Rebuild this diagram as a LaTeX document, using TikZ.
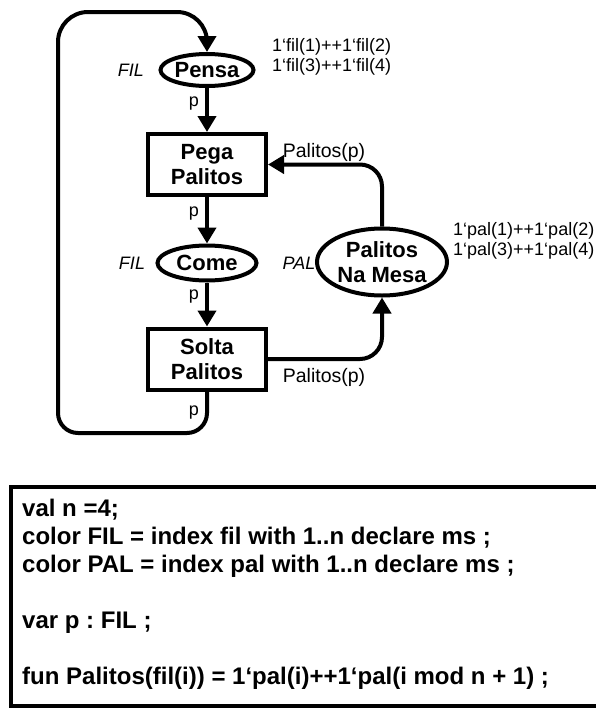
\documentclass[tikz,border=0pt]{standalone}
\usepackage{fontspec}
\setmainfont{Liberation Sans}
\usetikzlibrary{arrows.meta,shapes.geometric}
\frenchspacing
\begin{document}
\begin{tikzpicture}[x=1pt,y=-1pt,
  place/.style={ellipse, draw, line width=4pt, inner sep=0pt,
    font=\fontsize{22}{25}\selectfont\bfseries, align=center},
  trans/.style={rectangle, draw, line width=4pt, inner sep=0pt,
    minimum width=118pt, minimum height=61pt,
    font=\fontsize{22}{25}\selectfont\bfseries, align=center},
  arc/.style={line width=4pt, -{Triangle[length=16pt,width=18pt]}},
  lbl/.style={inner sep=0pt, font=\fontsize{18}{20}\selectfont},
  inscr/.style={inner sep=0pt, font=\fontsize{19.5}{22}\selectfont},
  typ/.style={inner sep=0pt, font=\fontsize{18}{20}\selectfont\itshape},
  decl/.style={inner sep=0pt, anchor=base west, font=\fontsize{24}{28}\selectfont\bfseries},
]
\useasboundingbox (0,0) rectangle (595,715);
\fill[white] (0,0) rectangle (595,715);

% places and transitions
\node[place, minimum width=93pt, minimum height=32pt] (pensa) at (207,70) {Pensa};
\node[trans] (pega) at (207,164.5) {Pega\\Palitos};
\node[place, minimum width=99pt, minimum height=35pt] (come) at (207,263) {Come};
\node[trans] (solta) at (207,359) {Solta\\Palitos};
\node[place, minimum width=130pt, minimum height=67pt] (mesa) at (382,262) {Palitos\\Na Mesa};

% colour sets
\node[typ] (tpensa) at (131,70) {FIL};
\node[typ] (tcome) at (132,263) {FIL};
\node[typ] (tmesa) at (299,263) {PAL};

% initial markings
\node[lbl, align=left, anchor=west] (mpensa) at (272,57) {1‘fil(1)++1‘fil(2)\\1‘fil(3)++1‘fil(4)};
\node[lbl, align=left, anchor=west] (mmesa) at (453,241) {1‘pal(1)++1‘pal(2)\\1‘pal(3)++1‘pal(4)};

% arcs of the philosopher cycle
\draw[arc] (pensa) -- node[lbl, left=6pt, pos=.35] {p} (pega);
\draw[arc] (pega) -- node[lbl, left=6pt, pos=.35] {p} (come);
\draw[arc] (come) -- node[lbl, left=6pt, pos=.33] {p} (solta);
\draw[arc] (solta.south) [rounded corners=20pt]
  -- node[lbl, left=6pt, pos=.5] {p} (207,433)
  [rounded corners=20pt] -- (58,433)
  [rounded corners=30pt] -- (58,12)
  [rounded corners=30pt] -- (207,12)
  [rounded corners=12pt] -- (pensa.north);

% arcs of the chopsticks
\draw[arc, rounded corners=22pt] (mesa.north) |- (pega.east);
\draw[arc, rounded corners=22pt] (solta.east) -| (mesa.south);
\node[inscr] (lpega) at (324,152) {Palitos(p)};
\node[inscr] (lsolta) at (324,377) {Palitos(p)};

% declarations
\draw[line width=4pt] (11,487) rectangle (600,706);
\node[decl] (d1) at (22,516) {val n =4;};
\node[decl] (d2) at (22,544) {color FIL = index fil with 1..n declare ms ;};
\node[decl] (d3) at (22,572) {color PAL = index pal with 1..n declare ms ;};
\node[decl] (d4) at (22,628) {var p : FIL ;};
\node[decl] (d5) at (22,684) {fun Palitos(fil(i)) = 1‘pal(i)++1‘pal(i mod n + 1) ;};
\end{tikzpicture}
\end{document}
